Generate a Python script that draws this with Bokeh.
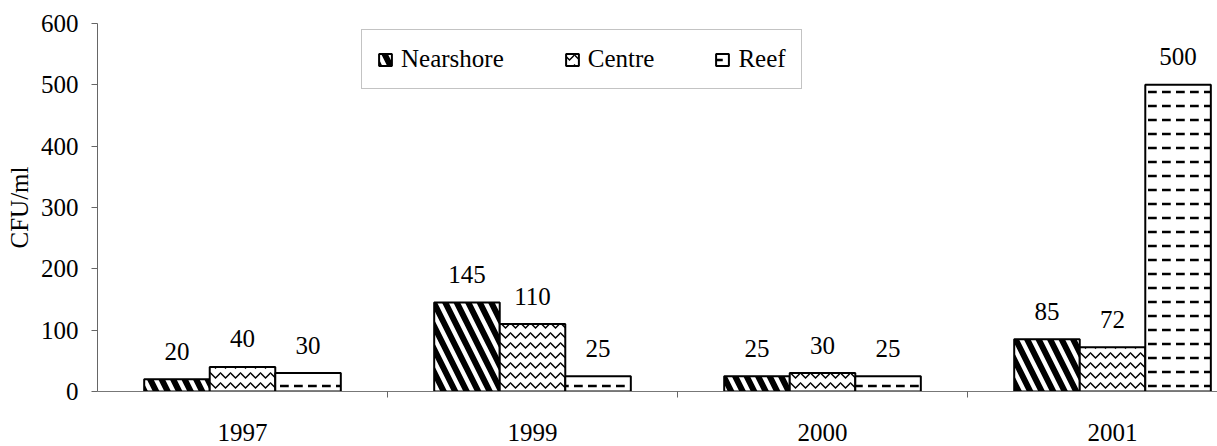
from bokeh.plotting import figure
from bokeh.models import (ColumnDataSource, Range1d, FixedTicker, LabelSet, Legend, LegendItem)
from bokeh.embed import file_html
from bokeh.resources import INLINE

years = ["1997", "1999", "2000", "2001"]
nearshore = [20, 145, 25, 85]
centre = [40, 110, 30, 72]
reef = [30, 25, 25, 500]
series_names = ["Nearshore", "Centre", "Reef"]
y_ticks = [0, 100, 200, 300, 400, 500, 600]

FONT = "Liberation Serif"
FS = "25px"

centers = [i + 0.5 for i in range(len(years))]
bw = 0.226
offsets = [-bw, 0.0, bw]
hatches = ["\\", "v", '"']
hscale = [23, 10, 14]
hweight = [6, 1.5, 2.5]

p = figure(width=1217, height=446, x_range=Range1d(0, 3.862), y_range=Range1d(0, 600),
           output_backend="svg", toolbar_location=None,
           min_border_left=97, min_border_right=0, min_border_top=23, min_border_bottom=55)
p.xgrid.visible = False
p.ygrid.visible = False
p.outline_line_color = None
p.background_fill_color = "white"
p.border_fill_color = "white"

renderers = []
for k, vals in enumerate([nearshore, centre, reef]):
    src = ColumnDataSource(dict(x=[c + offsets[k] for c in centers], top=vals,
                                lab=[str(v) for v in vals]))
    r = p.vbar(x="x", top="top", width=bw, bottom=0, source=src,
               fill_color="white", line_color="black", line_width=2,
               hatch_pattern=hatches[k], hatch_color="black",
               hatch_scale=hscale[k], hatch_weight=hweight[k])
    renderers.append(r)
    p.add_layout(LabelSet(x="x", y="top", text="lab", source=src, y_offset=28,
                          text_align="center", text_baseline="middle",
                          text_font=FONT, text_font_size=FS, text_color="black"))

# x axis
xa = p.xaxis[0]
xa.ticker = FixedTicker(ticks=centers, minor_ticks=[1, 2, 3])
xa.major_label_overrides = {c: y for c, y in zip(centers, years)}
xa.major_tick_line_color = None
xa.major_tick_out = 0
xa.major_tick_in = 0
xa.minor_tick_out = 6
xa.minor_tick_in = 0
xa.minor_tick_line_color = "#666666"
xa.axis_line_color = "#777777"
xa.major_label_standoff = 26
xa.major_label_text_font = FONT
xa.major_label_text_font_size = FS
xa.major_label_text_color = "black"

# y axis
ya = p.yaxis[0]
ya.ticker = FixedTicker(ticks=y_ticks)
ya.major_tick_out = 6
ya.major_tick_in = 0
ya.minor_tick_line_color = None
ya.major_tick_line_color = "#666666"
ya.axis_line_color = "#666666"
ya.major_label_standoff = 13
ya.major_label_text_font = FONT
ya.major_label_text_font_size = FS
ya.major_label_text_color = "black"
ya.axis_label = "CFU/ml"
ya.axis_label_text_font = FONT
ya.axis_label_text_font_size = FS
ya.axis_label_text_font_style = "normal"
ya.axis_label_text_color = "black"
ya.axis_label_standoff = 5

legend = Legend(items=[LegendItem(label=n, renderers=[r]) for n, r in zip(series_names, renderers)],
                orientation="horizontal", location=(264, 302),
                label_text_font=FONT, label_text_font_size=FS, label_text_color="black",
                glyph_width=16, glyph_height=15, label_standoff=8, spacing=60,
                padding=15, margin=0, border_line_color="#888888", border_line_width=1,
                background_fill_color="white", background_fill_alpha=1.0)
p.add_layout(legend)

open("out.html", "w").write(file_html(p, INLINE))
